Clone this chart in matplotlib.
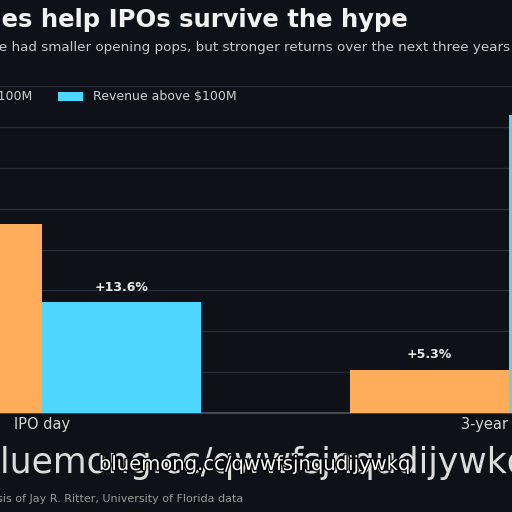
import matplotlib
matplotlib.use("Agg")
import matplotlib.pyplot as plt
import matplotlib.patheffects as pe
import numpy as np

# ---- data ----
categories = ["IPO day", "3-year return"]
series_names = ["Revenue below $100M", "Revenue above $100M"]
below_100m = [23.1, 5.3]
above_100m = [13.6, 36.5]
yticks = [0, 5, 10, 15, 20, 25, 30, 35, 40]

title = "Revenues help IPOs survive the hype"
subtitle = "IPOs with more revenue had smaller opening pops, but stronger returns over the next three years"
source = "Source: Bloomberg analysis of Jay R. Ritter, University of Florida data"
watermark = "bluemong.cc/qwwfsjnqudijywkq"

BG = "#0e1117"
ORANGE = "#ffad5a"
CYAN = "#4dd6ff"
W, H = 512, 512

fig = plt.figure(figsize=(W / 100, H / 100), dpi=100, facecolor=BG)

def fx(px):
    return px / W

def fy(py_from_top):
    return (H - py_from_top) / H

# axes placed so the chart appears cropped as in the reference
ax_left_px = -191.5
ax_width_px = 934
ax_bottom_px = 99
ax_height_px = 40 * 8.17
ax = fig.add_axes([ax_left_px / W, ax_bottom_px / H, ax_width_px / W, ax_height_px / H])
ax.set_facecolor(BG)

x = np.arange(len(categories))
width = 0.34
b1 = ax.bar(x - width / 2, below_100m, width, color=ORANGE, label=series_names[0], zorder=3)
b2 = ax.bar(x + width / 2, above_100m, width, color=CYAN, label=series_names[1], zorder=3)

ax.set_xlim(-0.5, 1.5)
ax.set_ylim(0, 40)
ax.set_yticks(yticks)
ax.set_yticklabels([])
ax.yaxis.grid(True, color="#262a33", linewidth=1.0, zorder=0)
ax.set_axisbelow(True)
ax.tick_params(axis="y", length=0)
ax.set_xticks(x)
ax.set_xticklabels(categories, color="#d6d6d6", fontsize=10.5)
ax.tick_params(axis="x", length=0, pad=3)
for s in ["top", "right", "left"]:
    ax.spines[s].set_visible(False)
ax.spines["bottom"].set_color("#50555d")
ax.spines["bottom"].set_linewidth(1.2)

for bars, vals in [(b1, below_100m), (b2, above_100m)]:
    ax.bar_label(bars, labels=[f"+{v:.1f}%" for v in vals], padding=6,
                 color="#e8e8e8", fontsize=9, fontweight="bold")

fig.legend(handles=[b1, b2], labels=series_names, loc="center left",
           bbox_to_anchor=(fx(-149.5), fy(97)), ncol=2, frameon=False,
           borderaxespad=0, fontsize=9, labelcolor="#cfcfcf",
           handlelength=2.0, handleheight=0.7, columnspacing=2.0)

fig.text(fx(408), fy(27), title, ha="right", va="baseline", fontsize=17.5,
         fontweight="bold", color="#f2f2f2")
fig.text(fx(510), fy(51), subtitle, ha="right", va="baseline", fontsize=9.7,
         color="#c8c8c8")
fig.text(fx(243), fy(502), source, ha="right", va="baseline", fontsize=8.05,
         color="#9a9a9a")

fig.text(fx(-21), fy(473), watermark, ha="left", va="baseline", fontsize=24.9,
         color="#dcdcdc")
fig.text(fx(255), fy(470), watermark, ha="center", va="baseline", fontsize=14.1,
         color="white", path_effects=[pe.withStroke(linewidth=2, foreground="black")])

fig.savefig("out.png", dpi=100, facecolor=BG)
